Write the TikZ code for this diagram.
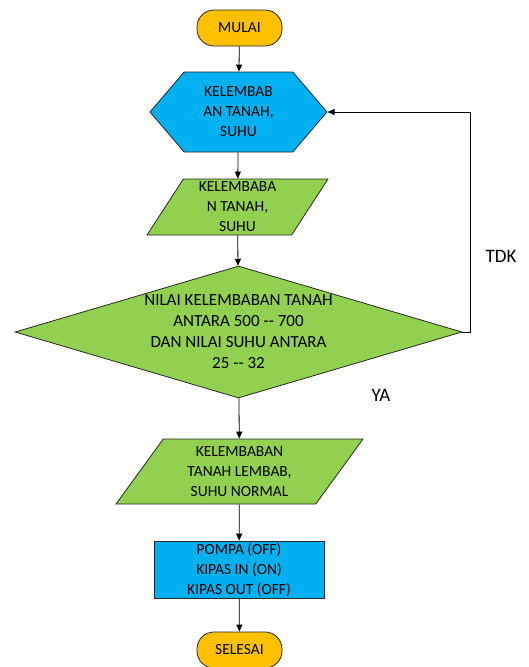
\documentclass[tikz,border=0pt]{standalone}
\usepackage{fontspec}
\setmainfont{Carlito}
\usepackage{tikz}
\definecolor{cy}{RGB}{0, 176, 240}
\definecolor{gr}{RGB}{146, 208, 80}
\definecolor{og}{RGB}{255, 192, 0}
\definecolor{ln}{RGB}{40, 40, 40}
\usetikzlibrary{positioning}
\usetikzlibrary{shapes.geometric}
\usetikzlibrary{shapes.symbols}
\usetikzlibrary{arrows.meta}

\begin{document}
\begin{tikzpicture}[
every node/.style={inner sep=0pt, draw=ln, line width=0.8pt},
every label/.style={draw=none, align=center, text=black, font=\fontsize{15.5pt}{20pt}\selectfont},
terminal/.style={rectangle, rounded corners=17pt, fill=og, minimum width=85pt, minimum height=36pt},
io/.style={trapezium, trapezium stretches body=true, fill=gr, text height=#1, text depth=0pt},
arr/.style={line width=0.8pt, draw=black, -{Triangle[length=7pt, width=6pt]}},
note/.style={draw=none, font=\fontsize{19pt}{22pt}\selectfont}]
\useasboundingbox (0pt, 0pt) rectangle (528pt, -667pt);
\node (mulai) [terminal, label={center:MULAI}] at (239.5pt, -28pt) {};
\node (baca) [signal, signal to=east and west, signal pointer angle=99, fill=cy, minimum width=177pt, minimum height=80pt, label={center:KELEMBAB\\AN TANAH,\\SUHU}] at (238.5pt, -112pt) {};
\node (input) [io=56pt, trapezium left angle=57, trapezium right angle=123, minimum width=181pt, label={center:KELEMBABA\\N TANAH,\\SUHU}] at (237.5pt, -207pt) {};
\node (cek) [diamond, fill=gr, minimum width=447pt, minimum height=132pt, label={[font=\fontsize{17pt}{21pt}\selectfont]center:NILAI KELEMBABAN TANAH\\ANTARA 500 -{}- 700\\DAN NILAI SUHU ANTARA\\25 -{}- 32}] at (238.5pt, -332pt) {};
\node (hasil) [io=65pt, trapezium left angle=54, trapezium right angle=126, minimum width=247pt, label={center:KELEMBABAN\\TANAH LEMBAB,\\SUHU NORMAL}] at (239.5pt, -471.5pt) {};
\node (aksi) [rectangle, fill=cy, minimum width=170pt, minimum height=57pt, label={center:POMPA (OFF)\\KIPAS IN (ON)\\KIPAS OUT (OFF)}] at (239pt, -569.5pt) {};
\node (selesai) [terminal, label={center:SELESAI}] at (239.5pt, -650pt) {};
\node (tdk) [note] at (501pt, -256pt) {TDK};
\node (ya) [note] at (381pt, -395pt) {YA};
\draw [arr] (mulai) to (baca);
\draw [arr] (baca) to (input);
\draw [arr] (input) to (cek);
\draw [arr] (cek) to (hasil);
\draw [arr] (hasil) to (aksi);
\draw [arr] (aksi) to (selesai);
\draw [arr] (cek.east) -- ++(8pt, 0pt) |- (baca.east);
\end{tikzpicture}
\end{document}
